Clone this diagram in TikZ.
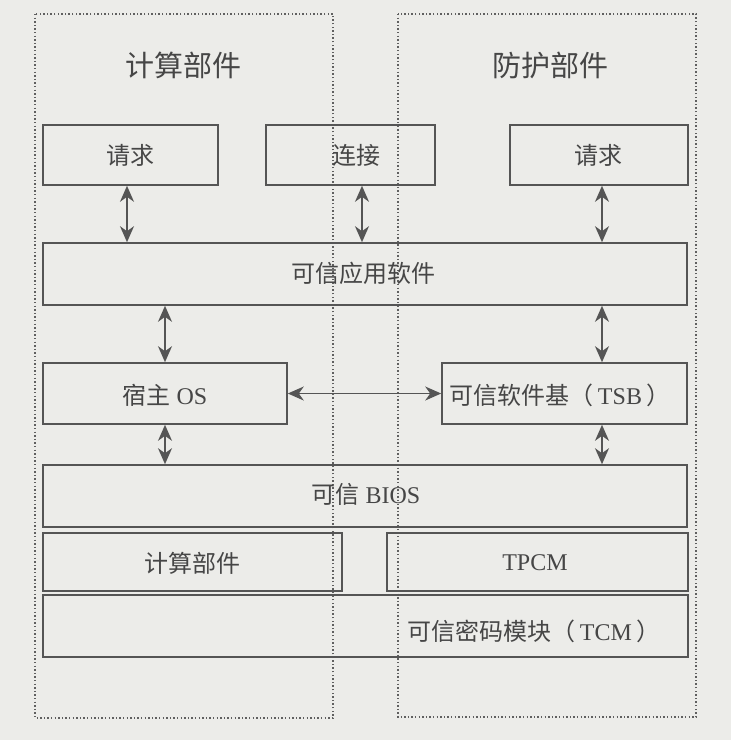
\documentclass[tikz,border=0pt]{standalone}
\usepackage{fontspec}
\setmainfont{Liberation Serif}
\newfontfamily\cjk{Noto Sans CJK SC}
\usetikzlibrary{arrows.meta}
\definecolor{bg}{RGB}{236,236,233}
\definecolor{ln}{RGB}{85,85,85}
\definecolor{tx}{RGB}{70,70,70}
\definecolor{dt}{RGB}{95,95,95}
\tikzset{
  box/.style={draw=ln, line width=1.6pt, rectangle, inner sep=0pt},
  zone/.style={draw=dt, line width=1.4pt, dash pattern=on 1.4pt off 2.2pt},
  lbl/.style={text=tx, font=\fontsize{24}{27}\selectfont, inner sep=0pt},
  ttl/.style={text=tx, font=\fontsize{29}{32}\selectfont, inner sep=0pt},
  dbl/.style={draw=ln, line width=1.5pt, {Stealth[length=16pt,width=14pt,inset=5pt]}-{Stealth[length=16pt,width=14pt,inset=5pt]}}
}
\begin{document}
\begin{tikzpicture}[x=1pt,y=-1pt]
\fill[bg] (0,0) rectangle (731,740);
\useasboundingbox (0,0) rectangle (731,740);
% zones
\draw[zone] (35,14) rectangle (333,718);
\draw[zone] (398,14) rectangle (696,717);
\node[ttl] (tL) at (183,65) {\cjk 计算部件};
\node[ttl] (tR) at (550,65) {\cjk 防护部件};
% boxes
\node[box, minimum width=175pt, minimum height=60pt] (reqL) at (130.5,155) {};
\node[box, minimum width=169pt, minimum height=60pt] (conn) at (350.5,155) {};
\node[box, minimum width=178pt, minimum height=60pt] (reqR) at (599,155) {};
\node[box, minimum width=644pt, minimum height=62pt] (app) at (365,274) {};
\node[box, minimum width=244pt, minimum height=61pt] (host) at (165,393.5) {};
\node[box, minimum width=245pt, minimum height=61pt] (tsb) at (564.5,393.5) {};
\node[box, minimum width=644pt, minimum height=62pt] (bios) at (365,496) {};
\node[box, minimum width=299pt, minimum height=58pt] (calc) at (192.5,562) {};
\node[box, minimum width=301pt, minimum height=58pt] (tpcm) at (537.5,562) {};
\node[box, minimum width=645pt, minimum height=62pt] (tcm) at (365.5,626) {};
% labels
\node[lbl] (reqLt) at (130,155) {\cjk 请求};
\node[lbl] (connt) at (356,155) {\cjk 连接};
\node[lbl] (reqRt) at (598,155) {\cjk 请求};
\node[lbl] (appt) at (363,273) {\cjk 可信应用软件};
\node[lbl] (hostt) at (165,395) {{\cjk 宿主} OS};
\node[lbl] (tsbt) at (560,395) {{\cjk 可信软件基（}\,TSB\,{\cjk ）}};
\node[lbl] (biost) at (366,494) {{\cjk 可信} BIOS};
\node[lbl] (calct) at (192,563) {\cjk 计算部件};
\node[lbl] (tpcmt) at (535,563) {TPCM};
\node[lbl] (tcmt) at (534,631) {{\cjk 可信密码模块（}\,TCM\,{\cjk ）}};
% arrows
\draw[dbl] ([xshift=-3.5pt]reqL.south) -- ([xshift=-3.5pt]reqL.south |- app.north);
\draw[dbl] ([xshift=11.5pt]conn.south) -- ([xshift=11.5pt]conn.south |- app.north);
\draw[dbl] ([xshift=3pt]reqR.south) -- ([xshift=3pt]reqR.south |- app.north);
\draw[dbl] (host.north |- app.south) -- (host.north);
\draw[dbl] ([xshift=3pt]app.south -| reqR.south) -- ([xshift=3pt]tsb.north -| reqR.south);
\draw[dbl] (host.south) -- (host.south |- bios.north);
\draw[dbl] ([xshift=3pt]tsb.south -| reqR.south) -- ([xshift=3pt]bios.north -| reqR.south);
\draw[dbl] (host.east) -- (tsb.west);
\end{tikzpicture}
\end{document}
